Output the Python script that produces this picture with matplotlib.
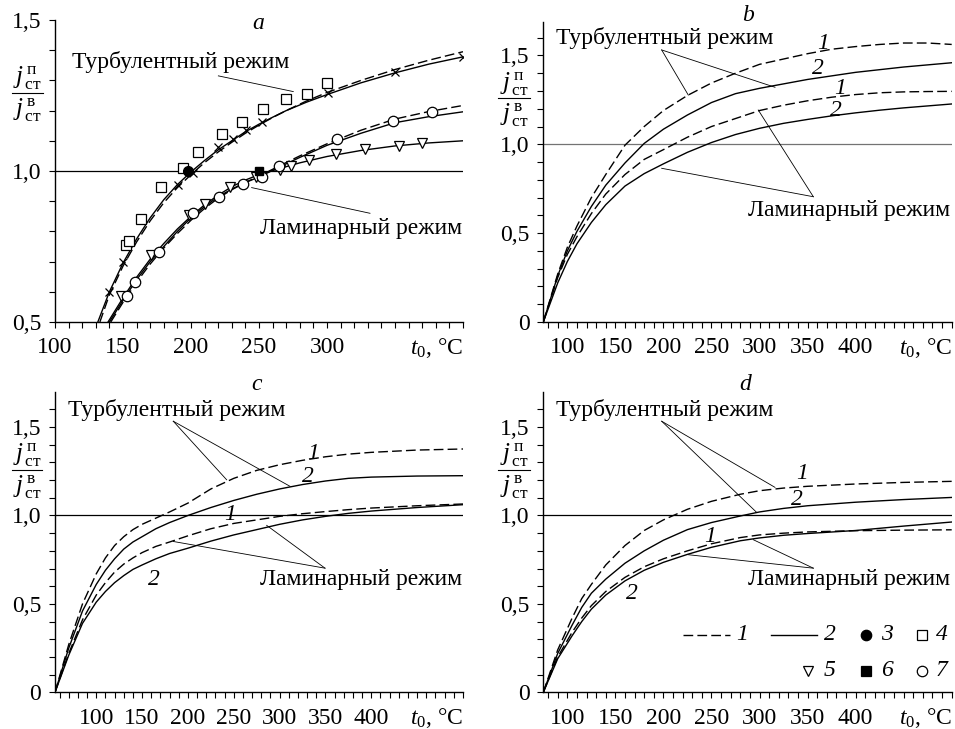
import numpy as np
import matplotlib
matplotlib.use('Agg')
import matplotlib.pyplot as plt

plt.rcParams['font.family'] = 'Liberation Serif'
plt.rcParams['mathtext.fontset'] = 'custom'
plt.rcParams['mathtext.rm'] = 'Liberation Serif'
plt.rcParams['mathtext.it'] = 'Liberation Serif:italic'
plt.rcParams['font.size'] = 17

# ---------------- panel a: experiment + calculation ----------------
a_turb_solid_x = [131.5, 140, 150, 160, 170, 180, 190, 200, 210, 220, 230, 240, 250, 260, 270, 285, 300, 325, 350, 375, 400]
a_turb_solid_y = [0.5, 0.6, 0.695, 0.775, 0.845, 0.905, 0.955, 0.997, 1.035, 1.07, 1.1, 1.13, 1.155, 1.178, 1.2, 1.228, 1.253, 1.292, 1.325, 1.354, 1.378]
a_turb_dash_x = [133, 140, 150, 160, 170, 180, 190, 200, 210, 220, 230, 240, 250, 260, 270, 285, 300, 325, 350, 375, 400]
a_turb_dash_y = [0.5, 0.59, 0.685, 0.765, 0.835, 0.895, 0.945, 0.988, 1.028, 1.063, 1.095, 1.125, 1.152, 1.177, 1.2, 1.232, 1.26, 1.3, 1.336, 1.367, 1.395]

a_lam_x = [140, 150, 160, 170, 180, 190, 200, 210, 220, 230, 240, 250, 265, 280, 300, 325, 350, 375, 400]
a_lam_solid_y = [0.5, 0.572, 0.64, 0.7, 0.75, 0.8, 0.845, 0.882, 0.915, 0.94, 0.962, 0.98, 1.013, 1.045, 1.085, 1.125, 1.16, 1.18, 1.196]
a_lam_dash_x = [141, 150, 160, 170, 180, 190, 200, 210, 220, 230, 240, 250, 265, 280, 300, 325, 350, 375, 400]
a_lam_dash_y = [0.5, 0.565, 0.632, 0.692, 0.745, 0.793, 0.837, 0.876, 0.91, 0.938, 0.962, 0.983, 1.017, 1.05, 1.09, 1.135, 1.172, 1.197, 1.217]
a_lam_tri_x = [139, 150, 160, 170, 180, 190, 200, 210, 220, 230, 240, 250, 265, 280, 300, 325, 350, 375, 400]
a_lam_tri_y = [0.5, 0.58, 0.648, 0.708, 0.76, 0.808, 0.85, 0.888, 0.92, 0.948, 0.97, 0.988, 1.008, 1.027, 1.048, 1.068, 1.083, 1.093, 1.1]

cross_x = [139.9, 150.2, 190.7, 201.7, 219.5, 231.1, 240.7, 252, 301, 350, 400]
cross_y = [0.598, 0.698, 0.954, 0.992, 1.078, 1.106, 1.136, 1.162, 1.257, 1.329, 1.378]
sq_x = [152, 154.6, 163.2, 177.9, 193.9, 205.4, 223, 237.7, 253.2, 269.9, 285.1, 300.3]
sq_y = [0.755, 0.768, 0.841, 0.948, 1.009, 1.064, 1.123, 1.163, 1.204, 1.237, 1.255, 1.29]
circ_x = [152.7, 158.8, 176.5, 201.7, 220.8, 238, 252, 265, 307.6, 348.8, 377]
circ_y = [0.587, 0.632, 0.731, 0.86, 0.915, 0.957, 0.981, 1.018, 1.105, 1.167, 1.196]
tri_x = [148.3, 170.6, 198.8, 210.3, 228.7, 247.5, 265.4, 273.3, 287, 306.6, 327.9, 353, 369.6]
tri_y = [0.587, 0.722, 0.854, 0.891, 0.946, 0.98, 1.003, 1.018, 1.036, 1.055, 1.072, 1.084, 1.094]
fcirc_x, fcirc_y = [198], [1.0]
fsq_x, fsq_y = [250], [1.0]

# ---------------- panel b ----------------
b_x = [75, 90, 100, 110, 125, 140, 160, 180, 200, 225, 250, 275, 300, 325, 350, 375, 400, 425, 450, 475, 500]
b_turb_dash = [0, 0.27, 0.42, 0.54, 0.7, 0.83, 0.995, 1.1, 1.19, 1.275, 1.345, 1.4, 1.45, 1.48, 1.51, 1.535, 1.55, 1.562, 1.57, 1.57, 1.562]
b_turb_solid = [0, 0.26, 0.4, 0.51, 0.65, 0.77, 0.895, 1.005, 1.085, 1.165, 1.235, 1.285, 1.315, 1.34, 1.365, 1.385, 1.405, 1.42, 1.435, 1.447, 1.459]
b_lam_dash = [0, 0.25, 0.38, 0.48, 0.61, 0.72, 0.83, 0.915, 0.97, 1.04, 1.1, 1.145, 1.19, 1.22, 1.245, 1.265, 1.28, 1.29, 1.295, 1.297, 1.298]
b_lam_solid = [0, 0.22, 0.34, 0.44, 0.56, 0.66, 0.765, 0.835, 0.89, 0.955, 1.01, 1.055, 1.09, 1.118, 1.14, 1.16, 1.177, 1.192, 1.205, 1.216, 1.227]

# ---------------- panel c ----------------
c_x = [55, 70, 85, 100, 110, 120, 130, 140, 150, 165, 180, 200, 225, 250, 275, 300, 325, 350, 375, 400, 450, 500]
c_turb_dash = [0, 0.27, 0.5, 0.67, 0.76, 0.83, 0.88, 0.92, 0.95, 0.985, 1.02, 1.07, 1.15, 1.21, 1.255, 1.287, 1.312, 1.332, 1.347, 1.357, 1.37, 1.376]
c_turb_solid = [0, 0.25, 0.46, 0.61, 0.69, 0.755, 0.81, 0.85, 0.88, 0.925, 0.96, 1.0, 1.045, 1.085, 1.12, 1.15, 1.175, 1.195, 1.21, 1.217, 1.223, 1.225]
c_lam_dash = [0, 0.22, 0.41, 0.55, 0.62, 0.68, 0.725, 0.76, 0.79, 0.825, 0.85, 0.885, 0.925, 0.955, 0.975, 0.995, 1.01, 1.022, 1.033, 1.042, 1.055, 1.065]
c_lam_solid = [0, 0.21, 0.39, 0.51, 0.57, 0.62, 0.66, 0.695, 0.72, 0.755, 0.785, 0.815, 0.855, 0.89, 0.92, 0.95, 0.975, 0.995, 1.012, 1.025, 1.045, 1.061]

# ---------------- panel d ----------------
d_x = [75, 90, 105, 115, 125, 140, 160, 180, 200, 225, 250, 280, 300, 325, 350, 400, 450, 500]
d_turb_dash = [0, 0.24, 0.42, 0.53, 0.61, 0.72, 0.83, 0.915, 0.975, 1.035, 1.08, 1.12, 1.14, 1.155, 1.165, 1.178, 1.187, 1.193]
d_turb_solid = [0, 0.22, 0.38, 0.48, 0.56, 0.64, 0.73, 0.8, 0.86, 0.92, 0.96, 0.997, 1.02, 1.04, 1.055, 1.075, 1.09, 1.102]
d_lam_dash = [0, 0.2, 0.34, 0.42, 0.49, 0.57, 0.65, 0.71, 0.755, 0.8, 0.84, 0.875, 0.89, 0.9, 0.907, 0.914, 0.917, 0.919]
d_lam_solid = [0, 0.19, 0.32, 0.4, 0.47, 0.55, 0.63, 0.69, 0.735, 0.78, 0.82, 0.857, 0.873, 0.888, 0.898, 0.915, 0.94, 0.963]

TURB = 'Турбулентный режим'
LAM = 'Ламинарный режим'
NUM = r'$j^{\,\mathrm{п}}_{\,\mathrm{ст}}$'
DEN = r'$j^{\,\mathrm{в}}_{\,\mathrm{ст}}$'

DASH = dict(color='k', lw=1.0, dashes=(7, 3))
SOLID = dict(color='k', lw=1.0)
LEAD = dict(color='k', lw=0.6)

W, H = 955, 729
fig = plt.figure(figsize=(W / 100, H / 100), dpi=100)


def add_ax(left, right, top, bottom):
    return fig.add_axes([left / W, 1 - bottom / H, (right - left) / W, (bottom - top) / H])


def setup(ax, xlim, ylim, xlab, ymaj, yminor, frac_x, frac_y, one_color='k'):
    ax.set_xlim(*xlim)
    ax.set_ylim(*ylim)
    for s in ['top', 'right']:
        ax.spines[s].set_visible(False)
    for s in ['left', 'bottom']:
        ax.spines[s].set_linewidth(1.0)
    ax.set_xticks(xlab, [str(v) for v in xlab])
    ax.set_xticks(np.arange(np.ceil(xlim[0] / 10) * 10, xlim[1] + 1, 10), minor=True)
    ax.set_yticks(ymaj, [('%.1f' % v).replace('.', ',') if v else '0' for v in ymaj])
    ax.set_yticks(yminor, minor=True)
    ax.tick_params(which='both', direction='out', length=4, width=0.8)
    ax.tick_params(axis='x', which='both', pad=7, labelsize=17)
    ax.tick_params(axis='y', which='both', pad=6, labelsize=17)
    ax.axhline(1.0, color=one_color, lw=0.9)
    ax.annotate(r'$t_0$, °C', xy=(1, 0), xycoords='axes fraction', xytext=(0, -9.8),
                textcoords='offset points', ha='right', va='top', fontsize=17)
    # y label as a fraction j_ст^п / j_ст^в
    ax.plot(frac_x, [frac_y, frac_y], transform=ax.transAxes, clip_on=False, color='k', lw=0.8)
    xc = (frac_x[0] + frac_x[1]) / 2
    ax.text(xc, frac_y + 0.05, NUM, transform=ax.transAxes, ha='center', va='center', fontsize=18)
    ax.text(xc, frac_y - 0.055, DEN, transform=ax.transAxes, ha='center', va='center', fontsize=18)


def leaders(ax, start, ends):
    for e in ends:
        ax.plot([start[0], e[0]], [start[1], e[1]], **LEAD)


# ---------- a ----------
ax = add_ax(55, 463, 20, 322)
setup(ax, (100, 400), (0.5, 1.5), [100, 150, 200, 250, 300], [0.5, 1.0, 1.5],
      np.arange(0.6, 1.45, 0.1), [-0.105, -0.029], 0.758)
ax.plot(a_turb_dash_x, a_turb_dash_y, **DASH)
ax.plot(a_turb_solid_x, a_turb_solid_y, **SOLID)
ax.plot(a_lam_dash_x, a_lam_dash_y, **DASH)
ax.plot(a_lam_x, a_lam_solid_y, **SOLID)
ax.plot(a_lam_tri_x, a_lam_tri_y, **SOLID)
ax.plot(cross_x, cross_y, 'x', color='k', ms=6, mew=0.9)
ax.plot(sq_x, sq_y, 's', mfc='white', mec='k', ms=7, mew=0.9)
ax.plot(tri_x, tri_y, 'v', mfc='white', mec='k', ms=7.5, mew=0.9)
ax.plot(circ_x, circ_y, 'o', mfc='white', mec='k', ms=7.5, mew=0.9)
ax.plot(fcirc_x, fcirc_y, 'o', color='k', ms=7)
ax.plot(fsq_x, fsq_y, 's', color='k', ms=6)
leaders(ax, (220.1, 1.315), [(275.2, 1.263)])
leaders(ax, (244.6, 0.945), [(331.6, 0.860)])
ax.text(192.5, 1.36, TURB, ha='center', va='center')
ax.text(325, 0.811, LAM, ha='center', va='center')
ax.text(249.5, 1.49, 'a', ha='center', va='center', style='italic')

# ---------- b ----------
ax = add_ax(543.3, 951.7, 21.7, 322)
setup(ax, (75, 500), (0, 1.69), [100, 150, 200, 250, 300, 350, 400], [0, 0.5, 1.0, 1.5],
      np.arange(0.1, 1.65, 0.1), [-0.111, -0.032], 0.745, one_color='0.45')
ax.plot(b_x, b_turb_dash, **DASH)
ax.plot(b_x, b_turb_solid, **SOLID)
ax.plot(b_x, b_lam_dash, **DASH)
ax.plot(b_x, b_lam_solid, **SOLID)
leaders(ax, (198.2, 1.531), [(225.9, 1.277), (316.1, 1.321)])
leaders(ax, (356, 0.705), [(298.7, 1.193), (198.2, 0.865)])
ax.text(201, 1.597, TURB, ha='center', va='center')
ax.text(393.1, 0.630, LAM, ha='center', va='center')
ax.text(288.3, 1.727, 'b', ha='center', va='center', style='italic')
for (x, y, s) in [(366.5, 1.567, '1'), (361.3, 1.427, '2'), (383.8, 1.315, '1'), (379.7, 1.193, '2')]:
    ax.text(x, y, s, ha='center', va='center', style='italic')

# ---------- c ----------
ax = add_ax(55, 463, 391.7, 692.3)
setup(ax, (55, 500), (0, 1.7), [100, 150, 200, 250, 300, 350, 400], [0, 0.5, 1.0, 1.5],
      np.arange(0.1, 1.65, 0.1), [-0.105, -0.032], 0.740)
ax.plot(c_x, c_turb_dash, **DASH)
ax.plot(c_x, c_turb_solid, **SOLID)
ax.plot(c_x, c_lam_dash, **DASH)
ax.plot(c_x, c_lam_solid, **SOLID)
leaders(ax, (184, 1.533), [(242.2, 1.202), (311.3, 1.165)])
leaders(ax, (349.5, 0.702), [(184, 0.853), (285.9, 0.944)])
ax.text(188, 1.599, TURB, ha='center', va='center')
ax.text(388.4, 0.636, LAM, ha='center', va='center')
ax.text(274.9, 1.74, 'c', ha='center', va='center', style='italic')
for (x, y, s) in [(336.7, 1.353, '1'), (331.3, 1.221, '2'), (245.9, 1.004, '1'), (163, 0.636, '2')]:
    ax.text(x, y, s, ha='center', va='center', style='italic')

# ---------- d ----------
ax = add_ax(543.3, 951.7, 391.7, 692.3)
setup(ax, (75, 500), (0, 1.7), [100, 150, 200, 250, 300, 350, 400], [0, 0.5, 1.0, 1.5],
      np.arange(0.1, 1.65, 0.1), [-0.111, -0.032], 0.740)
ax.plot(d_x, d_turb_dash, **DASH)
ax.plot(d_x, d_turb_solid, **SOLID)
ax.plot(d_x, d_lam_dash, **DASH)
ax.plot(d_x, d_lam_solid, **SOLID)
leaders(ax, (198.2, 1.533), [(316.1, 1.159), (297.1, 1.017)])
leaders(ax, (356, 0.702), [(293.5, 0.863), (225.9, 0.778)])
ax.text(201, 1.599, TURB, ha='center', va='center')
ax.text(393.1, 0.636, LAM, ha='center', va='center')
ax.text(284.9, 1.74, 'd', ha='center', va='center', style='italic')
for (x, y, s) in [(343.9, 1.24, '1'), (338.7, 1.089, '2'), (248.5, 0.881, '1'), (167, 0.561, '2')]:
    ax.text(x, y, s, ha='center', va='center', style='italic')

# legend for the whole figure, drawn inside panel d
tr = ax.transAxes
ax.plot([0.342, 0.457], [0.191, 0.191], transform=tr, **DASH)
ax.plot([0.557, 0.670], [0.191, 0.191], transform=tr, **SOLID)
leg_marks = [('o', 'k', 0.790, 0.191), ('s', 'white', 0.927, 0.191),
             ('v', 'white', 0.648, 0.071), ('s', 'k', 0.790, 0.071), ('o', 'white', 0.927, 0.071)]
for m, fc, x, y in leg_marks:
    ax.plot([x], [y], m, mfc=fc, mec='k', ms=7.5, mew=0.9, transform=tr, clip_on=False)
leg_nums = [('1', 0.486, 0.191), ('2', 0.702, 0.191), ('3', 0.841, 0.191), ('4', 0.976, 0.191),
            ('5', 0.702, 0.071), ('6', 0.841, 0.071), ('7', 0.976, 0.071)]
for s, x, y in leg_nums:
    ax.text(x, y, s, transform=tr, ha='center', va='center', style='italic')

fig.savefig('out.png', dpi=100)
